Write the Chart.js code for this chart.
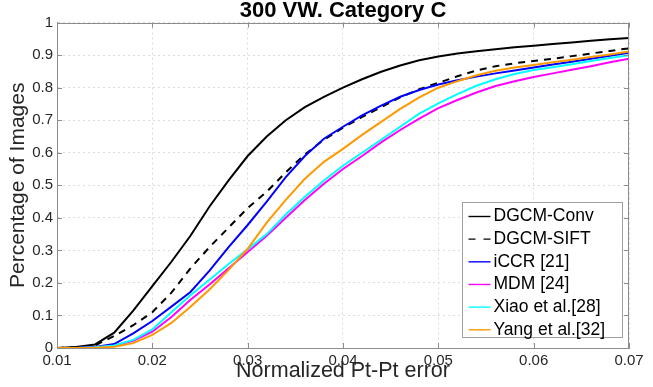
<!DOCTYPE html>
<html lang="en">
<head>
<meta charset="UTF-8">
<title>300 VW. Category C</title>
<script src="https://cdn.jsdelivr.net/npm/chart.js"></script>
<style>
    html, body { margin: 0; padding: 0; background: #fff; }
    canvas { display: block; }
</style>
</head>
<body>
<canvas id="cedChart" width="653" height="387"></canvas>
<script>
// normalized point-to-point error (x) and fraction of images below it (y)
const xErr = [0.010, 0.012, 0.014, 0.016, 0.018, 0.020, 0.022, 0.024, 0.026, 0.028,
              0.030, 0.032, 0.034, 0.036, 0.038, 0.040, 0.042, 0.044, 0.046, 0.048,
              0.050, 0.052, 0.054, 0.056, 0.058, 0.060, 0.062, 0.064, 0.066, 0.068, 0.070];

const dgcmConv = [0, 0.003, 0.011, 0.047, 0.115, 0.19, 0.265, 0.345, 0.435, 0.515,
                  0.59, 0.65, 0.70, 0.74, 0.772, 0.80, 0.826, 0.849, 0.868, 0.884,
                  0.896, 0.905, 0.912, 0.918, 0.924, 0.929, 0.934, 0.939, 0.944, 0.949, 0.953];
const dgcmSift = [0, 0.002, 0.008, 0.037, 0.07, 0.11, 0.17, 0.245, 0.31, 0.37,
                  0.43, 0.48, 0.54, 0.595, 0.64, 0.677, 0.71, 0.74, 0.77, 0.795,
                  0.815, 0.835, 0.853, 0.866, 0.875, 0.882, 0.889, 0.897, 0.905, 0.913, 0.921];
const iccr = [0, 0, 0.003, 0.012, 0.045, 0.083, 0.127, 0.172, 0.238, 0.31,
              0.378, 0.45, 0.525, 0.59, 0.643, 0.68, 0.715, 0.745, 0.772, 0.793,
              0.81, 0.823, 0.834, 0.844, 0.853, 0.862, 0.871, 0.880, 0.889, 0.898, 0.907];
const mdm = [0, 0, 0.002, 0.007, 0.022, 0.05, 0.095, 0.148, 0.195, 0.245,
             0.295, 0.345, 0.40, 0.455, 0.505, 0.55, 0.59, 0.632, 0.67, 0.705,
             0.737, 0.762, 0.785, 0.805, 0.82, 0.833, 0.844, 0.855, 0.866, 0.878, 0.889];
const xiao = [0, 0, 0.002, 0.008, 0.025, 0.057, 0.11, 0.162, 0.21, 0.258,
              0.303, 0.35, 0.41, 0.465, 0.515, 0.56, 0.60, 0.64, 0.68, 0.72,
              0.752, 0.78, 0.806, 0.826, 0.842, 0.854, 0.863, 0.872, 0.882, 0.891, 0.90];
const yang = [0, 0, 0.001, 0.004, 0.015, 0.04, 0.077, 0.127, 0.18, 0.24,
              0.305, 0.385, 0.455, 0.52, 0.572, 0.612, 0.655, 0.695, 0.735, 0.77,
              0.80, 0.82, 0.838, 0.852, 0.862, 0.87, 0.878, 0.886, 0.894, 0.902, 0.911];

const seriesNames = ["DGCM-Conv", "DGCM-SIFT", "iCCR [21]", "MDM [24]", "Xiao et al.[28]", "Yang et al.[32]"];
const xTicks = [0.01, 0.02, 0.03, 0.04, 0.05, 0.06, 0.07];
const yTicks = [0, 0.1, 0.2, 0.3, 0.4, 0.5, 0.6, 0.7, 0.8, 0.9, 1];

const seriesValues = [dgcmConv, dgcmSift, iccr, mdm, xiao, yang];
const lineColors = ["#000000", "#000000", "#0000ff", "#ff00ff", "#00ffff", "#ff9900"];
const fontFamily = "'Liberation Sans', Arial, Helvetica, sans-serif";
const frameColor = "#8c8c8c";

Chart.defaults.font.family = fontFamily;

const datasets = seriesNames.map(function (name, i) {
    return {
        label: name,
        data: xErr.map(function (x, j) { return { x: x, y: seriesValues[i][j] }; }),
        borderColor: lineColors[i],
        borderWidth: 2,
        borderDash: i === 1 ? [7, 6] : [],
        pointRadius: 0,
        tension: 0,
        fill: false,
        order: seriesNames.length - i   // later series drawn on top, like matlab
    };
});

// box around the axes, inward tick marks and the legend inside the plot
const framePlugin = {
    id: "framePlugin",
    afterDatasetsDraw(chart) {
        const ctx = chart.ctx;
        const a = chart.chartArea;
        const xs = chart.scales.x, ys = chart.scales.y;
        ctx.save();
        ctx.strokeStyle = frameColor;
        ctx.lineWidth = 1;
        ctx.setLineDash([]);
        ctx.strokeRect(Math.round(a.left) + 0.5, Math.round(a.top) + 0.5,
                       Math.round(a.right - a.left) - 1, Math.round(a.bottom - a.top));
        ctx.beginPath();
        xTicks.forEach(function (v) {
            const px = Math.round(xs.getPixelForValue(v)) + 0.5;
            ctx.moveTo(px, a.bottom); ctx.lineTo(px, a.bottom - 5);
            ctx.moveTo(px, a.top); ctx.lineTo(px, a.top + 5);
        });
        yTicks.forEach(function (v) {
            const py = Math.round(ys.getPixelForValue(v)) + 0.5;
            ctx.moveTo(a.left, py); ctx.lineTo(a.left + 5, py);
            ctx.moveTo(a.right, py); ctx.lineTo(a.right - 5, py);
        });
        ctx.stroke();

        // legend
        const left = Math.round(a.right - 167) + 0.5;
        const right = Math.round(a.right - 7) + 0.5;
        const top = Math.round(a.bottom - 146.5) + 0.5;
        const bottom = Math.round(a.bottom - 11.5) + 0.5;
        ctx.fillStyle = "#ffffff";
        ctx.fillRect(left, top, right - left, bottom - top);
        ctx.strokeStyle = "#a0a0a0";
        ctx.strokeRect(left, top, right - left, bottom - top);
        ctx.font = "17.5px " + fontFamily;
        ctx.textBaseline = "middle";
        ctx.textAlign = "left";
        seriesNames.forEach(function (name, i) {
            const y = top + 14 + i * 22.66;
            ctx.beginPath();
            ctx.strokeStyle = lineColors[i];
            ctx.lineWidth = 1.4;
            ctx.setLineDash(i === 1 ? [7, 8] : []);
            ctx.moveTo(left + 6, y);
            ctx.lineTo(left + 28, y);
            ctx.stroke();
            ctx.fillStyle = "#000000";
            ctx.fillText(name, left + 31, y);
        });
        ctx.restore();
    }
};

new Chart(document.getElementById("cedChart"), {
    type: "line",
    data: { datasets: datasets },
    options: {
        responsive: false,
        animation: false,
        devicePixelRatio: 1,
        layout: { padding: { left: 0, right: 24, top: 0, bottom: 0 } },
        plugins: {
            legend: { display: false },
            tooltip: { enabled: false },
            title: {
                display: true,
                fullSize: false,
                text: "300 VW. Category C",
                color: "#000000",
                font: { size: 22, weight: "bold", lineHeight: 0.8 },
                padding: { top: 2, bottom: 3 }
            }
        },
        scales: {
            x: {
                type: "linear",
                min: 0.01,
                max: 0.07,
                afterBuildTicks: function (s) { s.ticks = xTicks.map(function (v) { return { value: v }; }); },
                afterFit: function (s) { s.height = 39; },
                ticks: {
                    autoSkip: false,
                    maxRotation: 0,
                    padding: 4,
                    color: "#262626",
                    font: { size: 15 },
                    callback: function (v) { return Number(v).toFixed(2); }
                },
                grid: { color: "#dcdcdc", lineWidth: 1, drawTicks: false },
                border: { display: true, color: frameColor, width: 1, dash: [2, 3] },
                title: {
                    display: true,
                    text: "Normalized Pt-Pt error",
                    color: "#262626",
                    font: { size: 21.5, lineHeight: 1 },
                    padding: { top: 0, bottom: 5 }
                }
            },
            y: {
                min: 0,
                max: 1,
                afterBuildTicks: function (s) { s.ticks = yTicks.map(function (v) { return { value: v }; }); },
                afterFit: function (s) { s.width = 57; },
                ticks: {
                    padding: 4,
                    color: "#262626",
                    font: { size: 15 },
                    callback: function (v) { return String(Number(Number(v).toFixed(1))); }
                },
                grid: { color: "#dcdcdc", lineWidth: 1, drawTicks: false },
                border: { display: true, color: frameColor, width: 1, dash: [2, 3] },
                title: {
                    display: true,
                    text: "Percentage of Images",
                    color: "#262626",
                    font: { size: 21, lineHeight: 1 },
                    padding: { top: 8, bottom: 0 }
                }
            }
        }
    },
    plugins: [framePlugin]
});
</script>
</body>
</html>
